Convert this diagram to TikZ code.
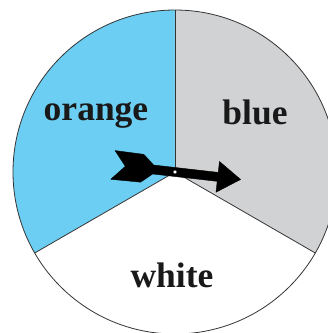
\documentclass[tikz,border=0pt]{standalone}
\usepackage{fontspec}
\setmainfont{Liberation Serif}
\usetikzlibrary{positioning}

\definecolor{skyfill}{RGB}{108,206,242}
\definecolor{greyfill}{RGB}{209,210,212}

\begin{document}
\begin{tikzpicture}[
        x=1pt, y=1pt,
        sector/.style={draw=black!80, line width=0.8pt},
        label/.style={font=\fontsize{35.5}{40}\selectfont\bfseries, text=black!90, inner sep=0pt, anchor=base},
        pointer/.style={fill=black, draw=black, line width=0.4pt, line join=round}
    ]
        \useasboundingbox (-175,-161) rectangle (153,172);

        % three equal sectors
        \fill[skyfill] (0,0) -- (90:162) arc[start angle=90, end angle=210, radius=162] -- cycle;
        \fill[greyfill] (0,0) -- (-30:162) arc[start angle=-30, end angle=90, radius=162] -- cycle;
        \fill[white] (0,0) -- (210:162) arc[start angle=210, end angle=330, radius=162] -- cycle;
        \draw[sector] (0,0) circle[radius=162];
        \draw[sector] (0,0) -- (90:162);
        \draw[sector] (0,0) -- (210:162);
        \draw[sector] (0,0) -- (-30:162);

        \node[label] (orange) at (-79,52) {orange};
        \node[label] (blue) at (80,48) {blue};
        \node[label] (white) at (-3,-115) {white};

        % spinner pointer
        \begin{scope}[rotate=-6.5]
            \fill[pointer] (-62,14.5) -- (-33,14) -- (-22,4.5) -- (43,4.5) -- (43,15.5)
                -- (66,0) -- (43,-15.5) -- (43,-4.5) -- (-22,-4.5) -- (-33,-14)
                -- (-63,-14.5) -- (-50,0) -- cycle;
        \end{scope}
        \node[circle, draw=black, fill=white, inner sep=0pt, minimum size=4pt, line width=0.6pt] (hub) at (0,0) {};
    \end{tikzpicture}
\end{document}
